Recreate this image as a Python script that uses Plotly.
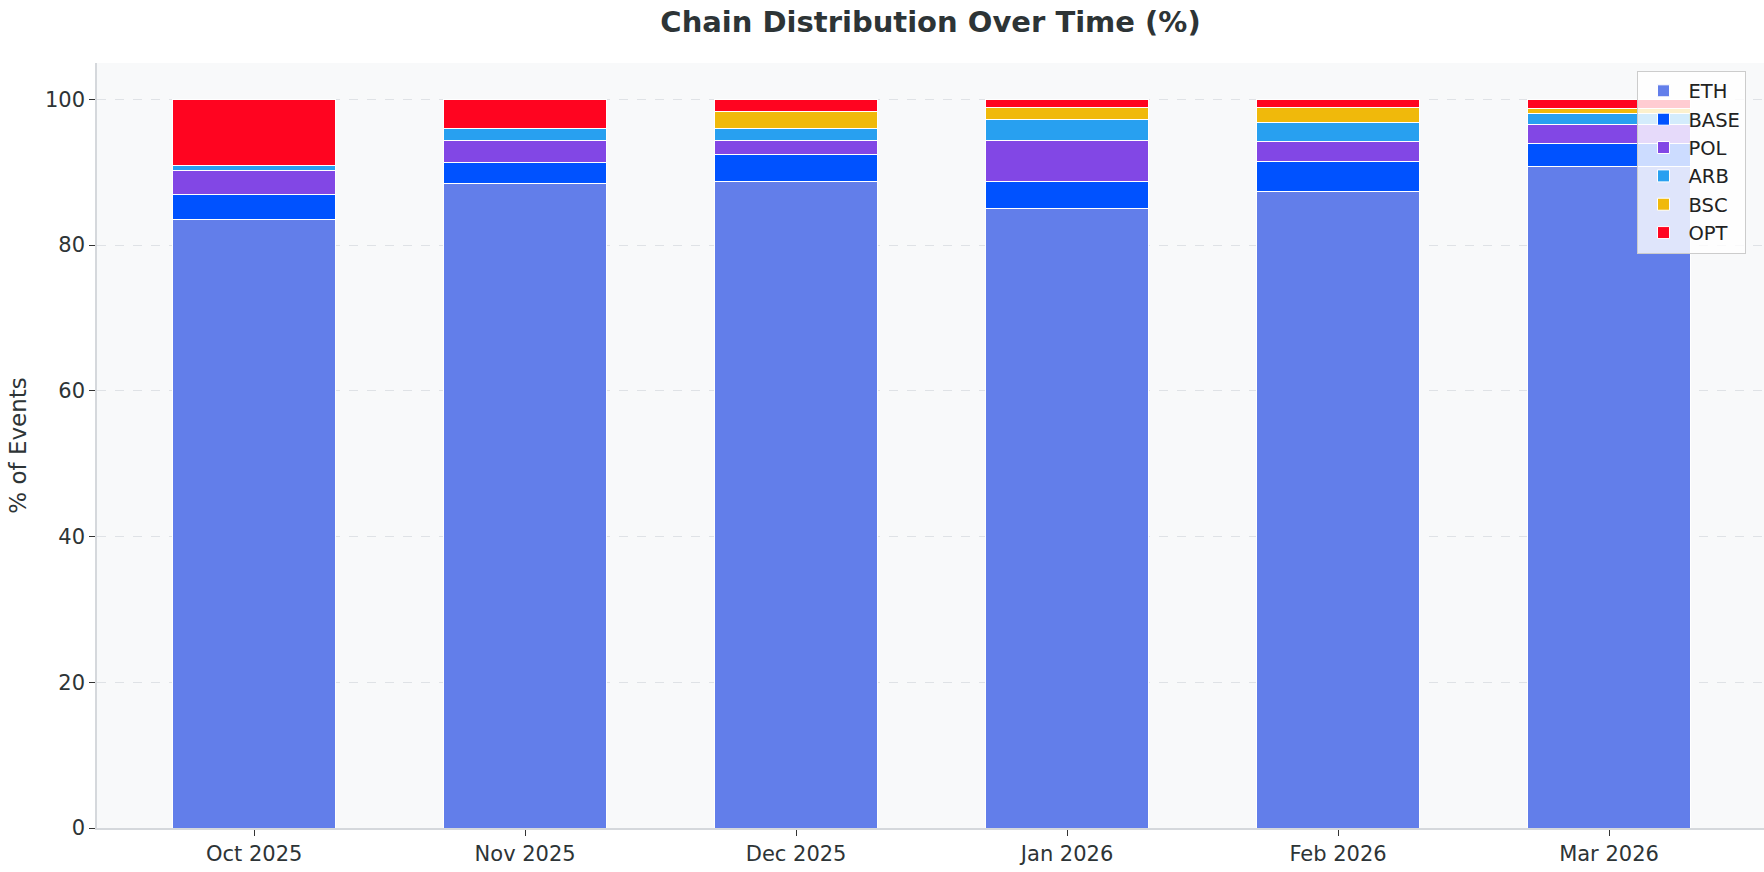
import plotly.graph_objects as go

months = ["Oct 2025", "Nov 2025", "Dec 2025", "Jan 2026", "Feb 2026", "Mar 2026"]
eth = [83.5, 88.5, 88.8, 85.0, 87.3, 90.8]
base = [3.4, 2.9, 3.6, 3.7, 4.2, 3.2]
pol = [3.4, 3.0, 1.9, 5.6, 2.7, 2.6]
arb = [0.7, 1.6, 1.7, 2.9, 2.7, 1.5]
bsc = [0.0, 0.0, 2.3, 1.7, 2.0, 0.65]
opt = [9.0, 4.0, 1.7, 1.1, 1.1, 1.25]

series = [
    ("ETH", eth, "#627EEA"),
    ("BASE", base, "#0052FF"),
    ("POL", pol, "#8247E5"),
    ("ARB", arb, "#28A0F0"),
    ("BSC", bsc, "#F0B90B"),
    ("OPT", opt, "#FF0420"),
]

FONT = "DejaVu Sans"
fig = go.Figure()
for name, vals, col in series:
    fig.add_trace(go.Bar(
        x=list(range(len(months))), y=vals, name=name, width=0.6,
        marker=dict(color=col, line=dict(color="white", width=1)),
    ))

fig.update_layout(
    width=1764, height=872,
    barmode="stack",
    paper_bgcolor="white",
    plot_bgcolor="#f8f9fa",
    margin=dict(l=97, r=0, t=63, b=44),
    font=dict(family=FONT, size=21, color="#2d3436"),
    title=dict(text="<b>Chain Distribution Over Time (%)</b>", x=0.5275, xanchor="center",
               y=0.9745, yanchor="middle", font=dict(family=FONT, size=29, color="#2d3436")),
    legend=dict(x=0.9895, xanchor="right", y=0.99, yanchor="top",
                bgcolor="rgba(255,255,255,0.8)", bordercolor="#cccccc", borderwidth=1,
                itemwidth=40,
                traceorder="normal", font=dict(family=FONT, size=19.5, color="#222222")),
    xaxis=dict(
        range=[-0.58, 5.572], tickmode="array", tickvals=list(range(len(months))), ticktext=months,
        showgrid=False, zeroline=False, showline=True, linecolor="#d5d8dc", linewidth=1.5,
        ticks="outside", ticklen=6, tickcolor="#333333", tickwidth=1.2,
        tickfont=dict(family=FONT, size=21, color="#2d3436"),
    ),
    yaxis=dict(
        range=[0, 105], tickvals=[0, 20, 40, 60, 80, 100],
        showgrid=True, gridcolor="#dfe2e6", griddash="dash", gridwidth=1,
        zeroline=False, showline=True, linecolor="#d5d8dc", linewidth=1.5,
        ticks="outside", ticklen=6, tickcolor="#333333", tickwidth=1.2,
        tickfont=dict(family=FONT, size=21, color="#2d3436"),
        title=dict(text="% of Events", standoff=12, font=dict(family=FONT, size=23, color="#2d3436")),
    ),
)

fig.write_html("out.html", config={"displayModeBar": False},
               post_script="document.body.style.margin='0';")
